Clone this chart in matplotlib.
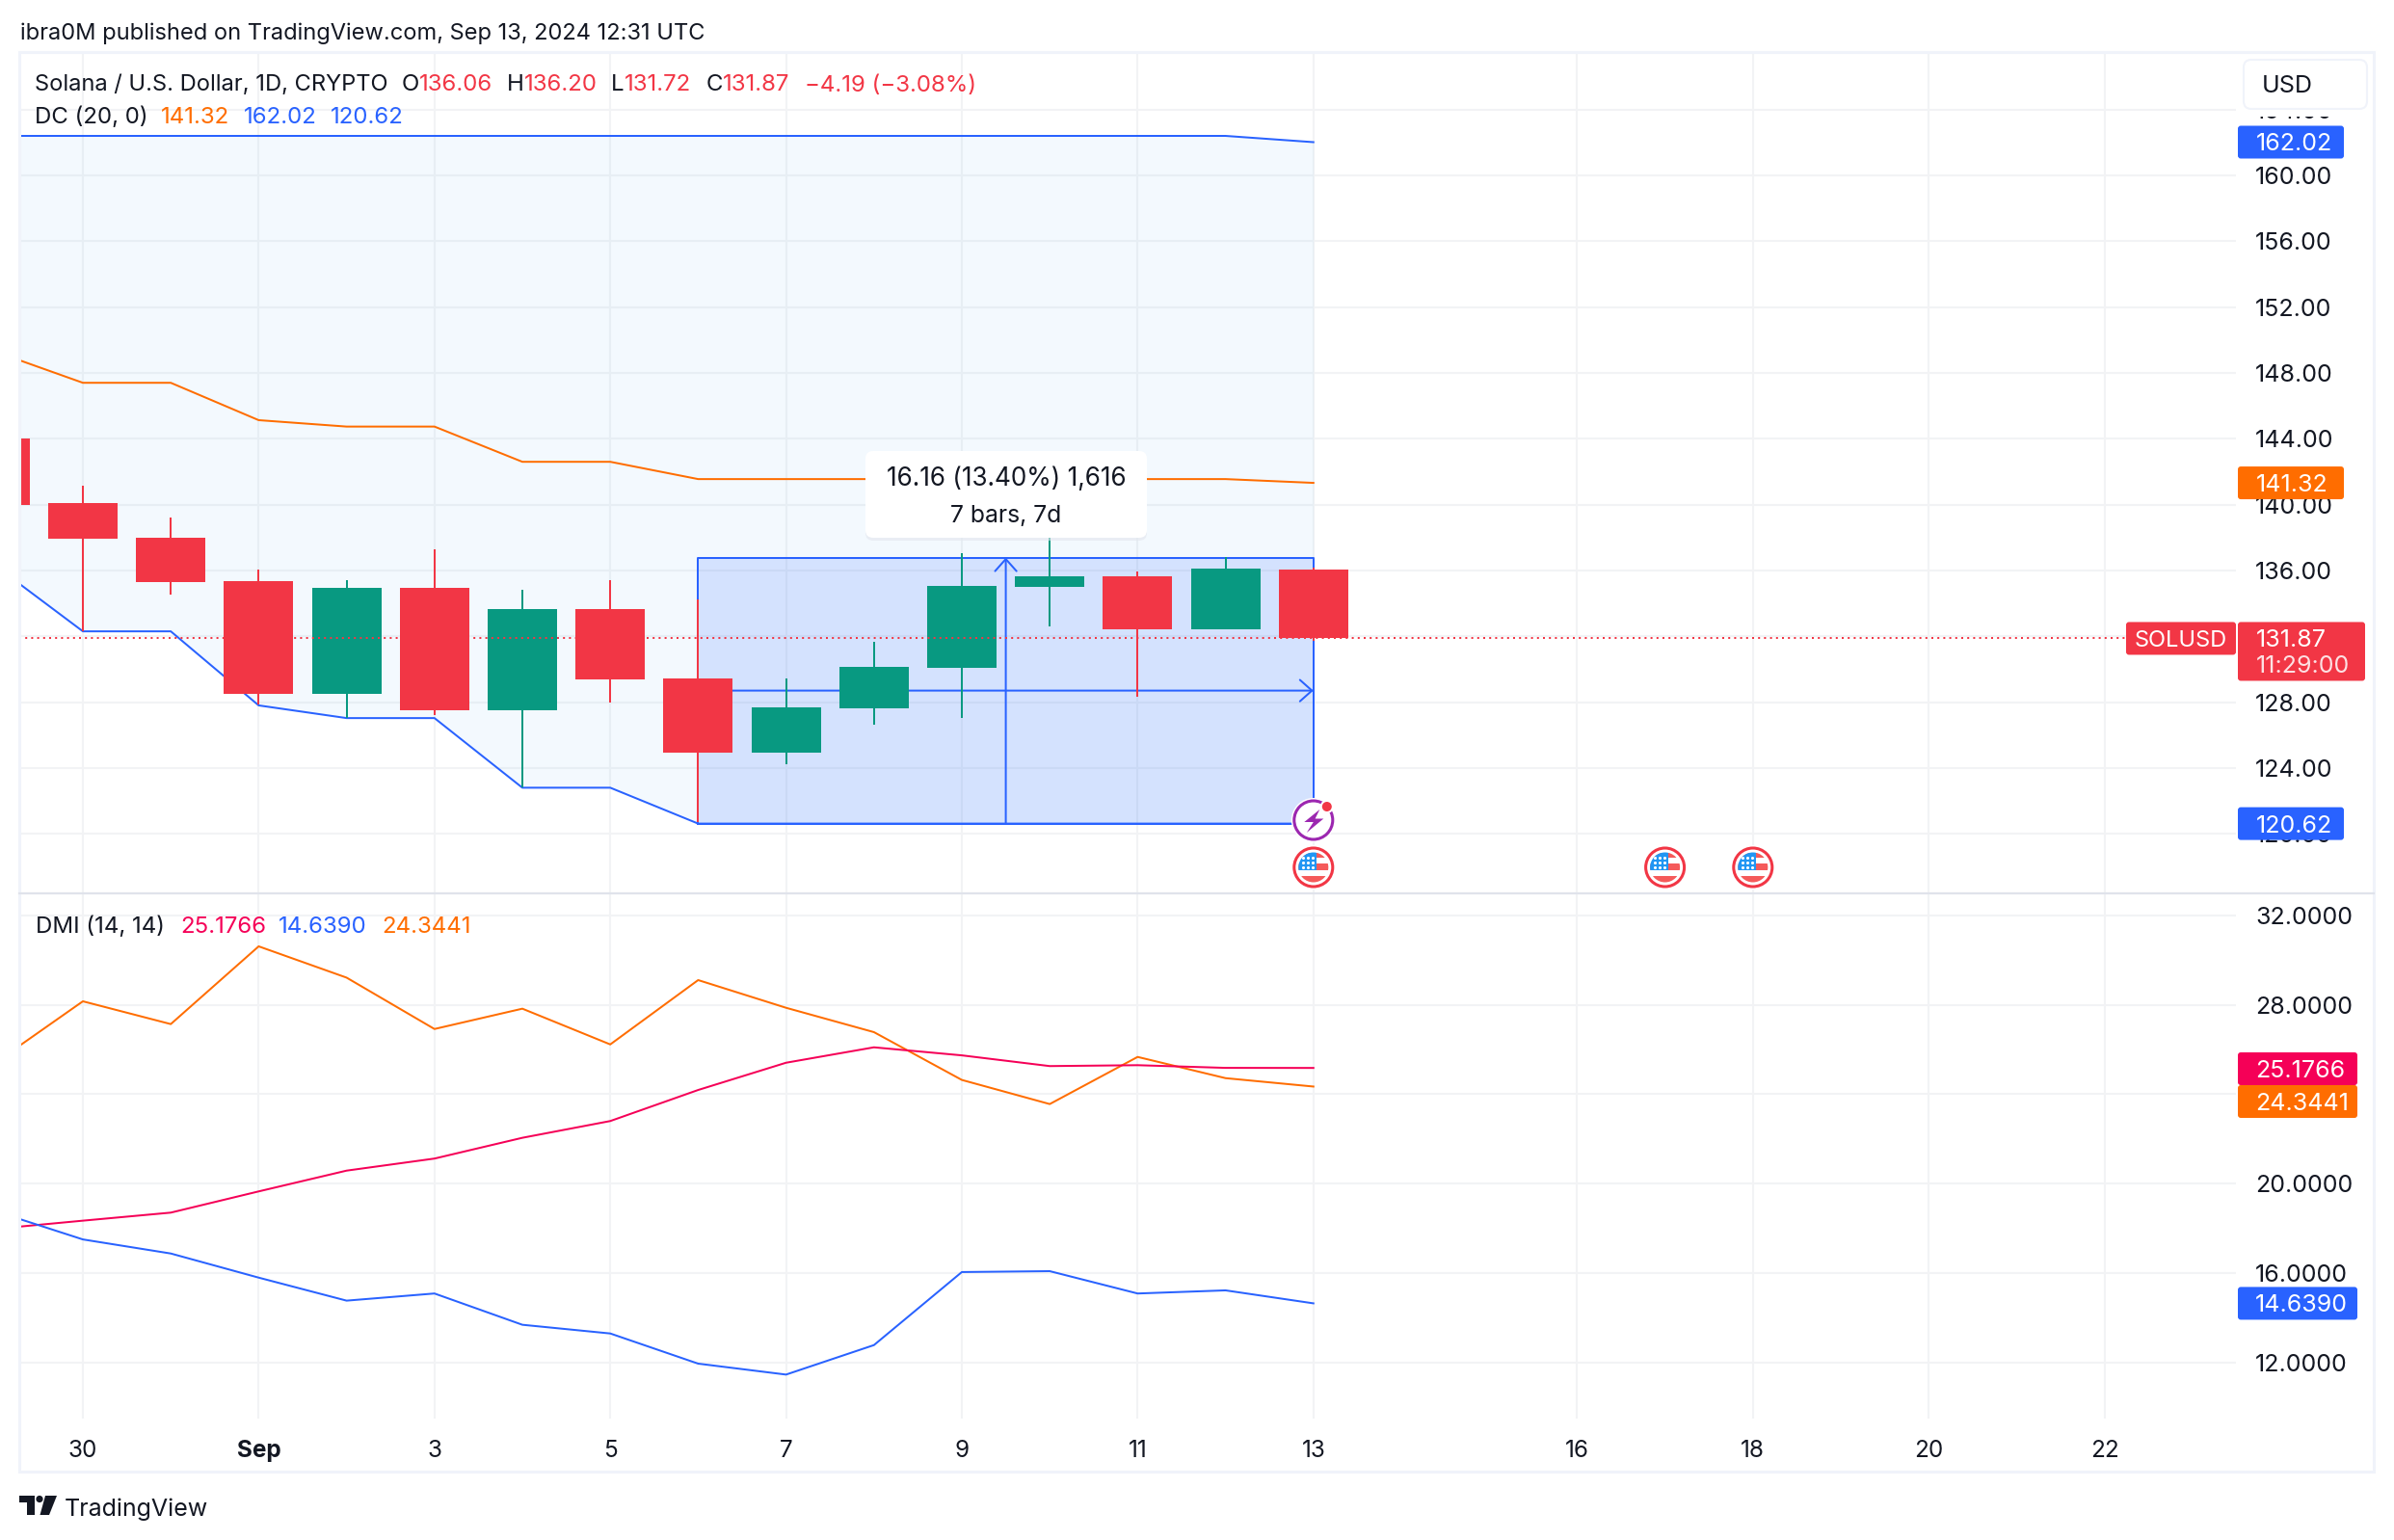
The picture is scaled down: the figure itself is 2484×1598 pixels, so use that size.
import matplotlib
matplotlib.use('Agg')
import matplotlib.pyplot as plt
from matplotlib.patches import Circle, FancyBboxPatch, Polygon, Rectangle

plt.rcParams['font.family'] = ['Inter', 'DejaVu Sans']

RED = '#f23645'
GREEN = '#089981'
BLUE = '#2962ff'
ORANGE = '#ff6d00'
PINK = '#f50057'
DARK = '#131722'
GRID = '#f2f3f5'
FRAME = '#f0f3fa'
SEPARATOR = '#e0e3eb'

W, H = 2484, 1598
PANE_LEFT, PANE_RIGHT = 20, 2320
PANE_TOP, PANE_SPLIT, PANE_BOTTOM = 54, 927, 1472

# day 0 is Aug 30
days = list(range(-1, 15))
opens = [144.0, 140.09, 137.99, 135.35, 128.5, 134.95, 127.5, 133.65, 129.44, 124.95, 127.65, 130.1, 135.0, 135.64, 132.4, 136.06]
highs = [145.0, 141.15, 139.2, 136.05, 135.4, 137.3, 134.85, 135.4, 134.25, 129.44, 131.67, 137.05, 139.0, 135.93, 136.8, 136.2]
lows = [139.5, 132.3, 134.55, 127.85, 127.05, 127.2, 122.8, 128.0, 120.7, 124.2, 126.65, 127.05, 132.6, 128.3, 132.4, 131.72]
closes = [140.0, 137.95, 135.3, 128.5, 134.95, 127.5, 133.65, 129.4, 124.95, 127.68, 130.14, 135.06, 135.64, 132.4, 136.1, 131.87]

dc_upper = [162.4] * 15 + [162.02]
dc_basis = [149.3, 147.4, 147.4, 145.13, 144.74, 144.74, 142.6, 142.6, 141.55, 141.55, 141.55, 141.55, 141.55, 141.55, 141.55, 141.32]
dc_lower = [136.3, 132.3, 132.3, 127.8, 127.03, 127.03, 122.8, 122.8, 120.62, 120.62, 120.62, 120.62, 120.62, 120.62, 120.62, 120.62]

dmi_plus = [17.97, 18.34, 18.7, 19.65, 20.58, 21.12, 22.05, 22.8, 24.19, 25.41, 26.1, 25.74, 25.26, 25.3, 25.18, 25.1766]
dmi_minus = [18.77, 17.5, 16.87, 15.79, 14.76, 15.08, 13.68, 13.29, 11.94, 11.45, 12.77, 16.04, 16.08, 15.08, 15.22, 14.639]
dmi_adx = [25.4, 28.16, 27.14, 30.62, 29.22, 26.92, 27.83, 26.23, 29.11, 27.87, 26.78, 24.64, 23.56, 25.67, 24.72, 24.3441]

grid_days = [0, 2, 4, 6, 8, 10, 12, 14, 17, 19, 21, 23]
date_labels = ['30', 'Sep', '3', '5', '7', '9', '11', '13', '16', '18', '20', '22']
price_ticks = [120, 124, 128, 132, 136, 140, 144, 148, 152, 156, 160, 164]
dmi_ticks = [12, 16, 20, 24, 28, 32]
event_days = [14, 18, 19]

measure_start, measure_end = 7, 14
measure_low, measure_high = 120.62, 136.78

SCALE_SIZE = 18
TEXT_SIZE = 17.3


def day_x(d):
    return 86 + d * 91.2


def price_y(p):
    return 182 + (160 - p) * 17.08


def dmi_y(v):
    return 950 + (32 - v) * 23.18


def make_axes(top, bottom):
    ax = fig.add_axes([PANE_LEFT / W, 1 - bottom / H, (PANE_RIGHT - PANE_LEFT) / W, (bottom - top) / H])
    ax.set_xlim((PANE_LEFT - 86) / 91.2, (PANE_RIGHT - 86) / 91.2)
    for s in ax.spines.values():
        s.set_visible(False)
    ax.set_xticks(grid_days)
    ax.yaxis.tick_right()
    ax.set_axisbelow(True)
    ax.grid(True, color=GRID, lw=1.5)
    ax.tick_params(length=0, labelsize=SCALE_SIZE, labelcolor=DARK, pad=14.4)
    return ax


fig = plt.figure(figsize=(W / 100, H / 100), dpi=100, facecolor='white')

# price pane
ax = make_axes(PANE_TOP, PANE_SPLIT)
ax.set_ylim(160 - (PANE_SPLIT - 182) / 17.08, 160 + (182 - PANE_TOP) / 17.08)
ax.set_yticks(price_ticks, ['%.2f' % t for t in price_ticks])
ax.tick_params(axis='x', labelbottom=False)

ax.fill_between(days, dc_lower, dc_upper, color='#2196f3', alpha=0.05, lw=0, zorder=1)
ax.plot(days, dc_upper, color=BLUE, lw=1.44, zorder=2)
ax.plot(days, dc_lower, color=BLUE, lw=1.44, zorder=2)
ax.plot(days, dc_basis, color=ORANGE, lw=1.44, zorder=2)

# measure tool sits under the candles
ax.fill_between([measure_start, measure_end], measure_low, measure_high, color=BLUE, alpha=0.15, lw=0, zorder=2.5)
ax.plot([measure_start, measure_end, measure_end, measure_start, measure_start],
        [measure_low, measure_low, measure_high, measure_high, measure_low], color=BLUE, lw=1.44, zorder=2.6)
mid_day = (measure_start + measure_end) / 2
mid_price = (measure_low + measure_high) / 2
arrow = dict(arrowstyle='->,head_length=9,head_width=8', color=BLUE, lw=1.44, shrinkA=0, shrinkB=0, mutation_scale=1)
ax.annotate('', xy=(mid_day, measure_high), xytext=(mid_day, measure_low), arrowprops=arrow, zorder=2.6)
ax.annotate('', xy=(measure_end, mid_price), xytext=(measure_start, mid_price), arrowprops=arrow, zorder=2.6)

for d, o, h, l, c in zip(days, opens, highs, lows, closes):
    col = GREEN if c >= o else RED
    ax.vlines(d, l, h, color=col, lw=1.44, zorder=3)
    ax.bar(d, abs(c - o), bottom=min(o, c), width=0.79, color=col, lw=0, zorder=3.1)

ax.axhline(closes[-1], color=RED, lw=1.44, ls=(0, (1, 2.1)), zorder=4)

# DMI pane
ax2 = make_axes(PANE_SPLIT, PANE_BOTTOM)
ax2.set_ylim(32 - (PANE_BOTTOM - 950) / 23.18, 32 + (950 - PANE_SPLIT) / 23.18)
ax2.set_yticks(dmi_ticks, ['%.4f' % t for t in dmi_ticks])
ax2.set_xticks(grid_days, date_labels)
ax2.tick_params(axis='x', pad=15.5, labelsize=17.5)
for lab in ax2.get_xticklabels():
    if lab.get_text() == 'Sep':
        lab.set_fontweight('bold')
ax2.plot(days, dmi_adx, color=ORANGE, lw=1.44, zorder=2)
ax2.plot(days, dmi_plus, color=PINK, lw=1.44, zorder=2)
ax2.plot(days, dmi_minus, color=BLUE, lw=1.44, zorder=2)

# everything else is placed in pixels on a transparent top layer
ov = fig.add_axes([0, 0, 1, 1], zorder=5)
ov.set_xlim(0, W)
ov.set_ylim(H, 0)
ov.axis('off')
ov.patch.set_alpha(0)

ov.add_patch(Rectangle((20, 54), 2443, 1473, fill=False, ec=FRAME, lw=2.2))
ov.plot([20, 2463], [PANE_SPLIT, PANE_SPLIT], color=SEPARATOR, lw=1.6)


def label(x, y, s, color=DARK, size=TEXT_SIZE, **kw):
    ov.text(x, y, s, color=color, fontsize=size, va='center_baseline', **kw)


def tag(x0, x1, y0, y1, color):
    ov.add_patch(FancyBboxPatch((x0, y0), x1 - x0, y1 - y0, boxstyle='round,pad=0,rounding_size=3', fc=color, ec='none'))


label(21, 32, 'ibra0M published on TradingView.com, Sep 13, 2024 12:31 UTC', size=17)

label(36.5, 86, 'Solana / U.S. Dollar, 1D, CRYPTO', size=17.05)
for x, s in [(417, 'O'), (526, 'H'), (634, 'L'), (732.6, 'C')]:
    label(x, 86, s)
for x, s in [(435, '136.06'), (544, '136.20'), (648, '131.72'), (749.5, '131.87'), (835, '−4.19 (−3.08%)')]:
    label(x, 86, s, RED)

label(36.5, 119, 'DC (20, 0)')
label(167, 119, '141.32', ORANGE)
label(253, 119, '162.02', BLUE)
label(343, 119, '120.62', BLUE)

label(36.7, 959, 'DMI (14, 14)')
label(187, 959, '25.1766', PINK)
label(289, 959, '14.6390', BLUE)
label(396.7, 959, '24.3441', ORANGE)

# USD button hides the top tick label
ov.add_patch(Rectangle((2322, 57), 138, 64, fc='white', ec='none'))
ov.add_patch(FancyBboxPatch((2328, 62), 128, 51, boxstyle='round,pad=0,rounding_size=8', fc='white', ec=FRAME, lw=1.5))
label(2347, 87, 'USD', size=SCALE_SIZE)

# last value tags on the price scale
for val, col in [(dc_upper[-1], BLUE), (dc_basis[-1], ORANGE), (dc_lower[-1], BLUE)]:
    y = price_y(val)
    tag(2322, 2432, y - 17, y + 17, col)
    label(2341, y, '%.2f' % val, 'white', SCALE_SIZE)
last_y = price_y(closes[-1])
tag(2322, 2454, last_y - 17, last_y + 44, RED)
label(2341, last_y, '%.2f' % closes[-1], 'white', SCALE_SIZE)
label(2341, last_y + 27, '11:29:00', '#fde0e3', SCALE_SIZE)
tag(2206, 2320, last_y - 17, last_y + 17, RED)
label(2215, last_y, 'SOLUSD', 'white', 17)

# DMI tags, the top two touch so they are nudged apart
for val, col, y in [(dmi_plus[-1], PINK, 1109), (dmi_adx[-1], ORANGE, 1143), (dmi_minus[-1], BLUE, dmi_y(dmi_minus[-1]))]:
    tag(2322, 2446, y - 17, y + 17, col)
    label(2340, y, '%.4f' % val, 'white', SCALE_SIZE)

# measure tooltip
ov.add_patch(FancyBboxPatch((898, 471), 292, 90, boxstyle='round,pad=0,rounding_size=8', fc='#e3e6ee', ec='none', alpha=0.6))
ov.add_patch(FancyBboxPatch((898, 468), 292, 90, boxstyle='round,pad=0,rounding_size=8', fc='white', ec='none'))
label(1044, 494, '16.16 (13.40%) 1,616', size=18.8, ha='center')
label(1044, 533, '7 bars, 7d', size=17.8, ha='center')


def flag_icon(x, y):
    ov.add_patch(Circle((x, y), 23, fc='white', ec='none'))
    ring = Circle((x, y), 20, fc='white', ec=RED, lw=2.2)
    ov.add_patch(ring)
    clip = Circle((x, y), 15.5, transform=ov.transData)
    parts = [Rectangle((x - 16, y - 15), 32, 5, fc='#f55a5a', ec='none'),
             Rectangle((x - 16, y - 4), 32, 7, fc='#f55a5a', ec='none'),
             Rectangle((x - 16, y + 9), 32, 7, fc='#f55a5a', ec='none'),
             Rectangle((x - 16, y - 16), 19, 19, fc='#2196f3', ec='none')]
    for p in parts:
        ov.add_patch(p)
        p.set_clip_path(clip)
    sx = [x - 11, x - 6, x - 1] * 3
    sy = [y - 10] * 3 + [y - 5] * 3 + [y] * 3
    ov.scatter(sx, sy, s=5, c='white', lw=0, zorder=3)


def event_icon(x, y):
    ov.add_patch(Circle((x, y), 23, fc='white', ec='none'))
    ov.add_patch(Circle((x, y), 20, fc='white', ec='#9c27b0', lw=2.2))
    bolt = [(6.5, -11), (-9.5, 2), (0, 2), (-7, 13), (10.5, -1.5), (1.8, -1.5)]
    ov.add_patch(Polygon([(x + a, y + b) for a, b in bolt], fc='#9c27b0', ec='none'))
    ov.add_patch(Circle((x + 14, y - 14), 7, fc='white', ec='none'))
    ov.add_patch(Circle((x + 14, y - 14), 5, fc=RED, ec='none'))


event_icon(day_x(14), 851)
for d in event_days:
    flag_icon(day_x(d), 900)

# logo
logo = [Polygon([(20, 1552), (36, 1552), (36, 1572), (28, 1572), (28, 1559), (20, 1559)], fc=DARK, ec='none'),
        Circle((41, 1555.5), 3.6, fc=DARK, ec='none'),
        Polygon([(47, 1552), (59, 1552), (51, 1572), (41.5, 1572)], fc=DARK, ec='none')]
for p in logo:
    ov.add_patch(p)
label(67, 1564, 'TradingView', size=18)

fig.savefig('out.png', dpi=100)
